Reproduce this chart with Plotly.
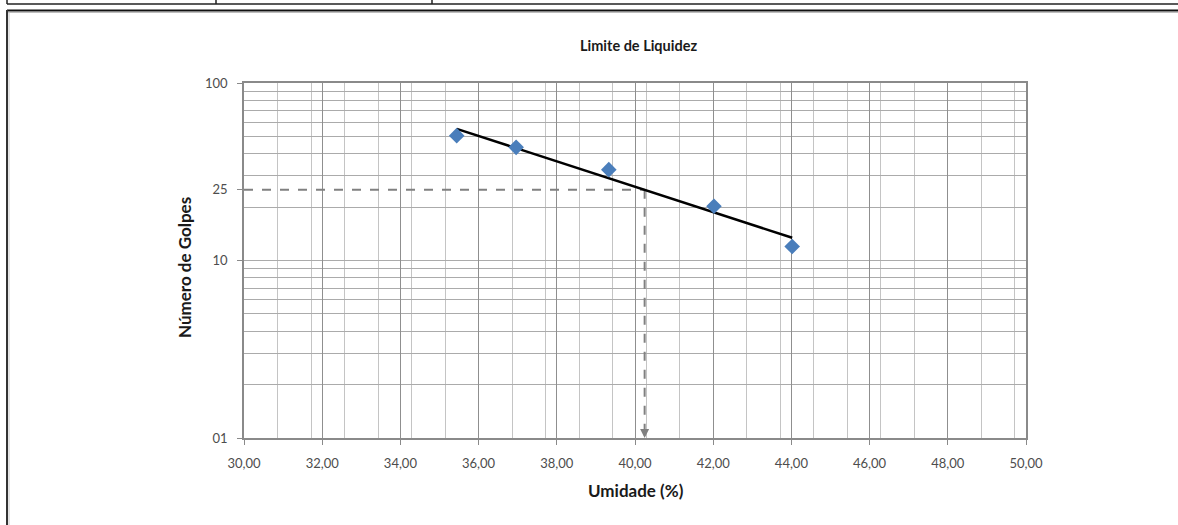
import numpy as np
import plotly.graph_objects as go

# Ensaio de limite de liquidez (Casagrande)
umidade = [35.44, 36.96, 39.33, 42.02, 44.02]      # teor de umidade (%)
golpes = [50.5, 43.4, 32.5, 20.2, 12.0]            # número de golpes

x_ticks = [30, 32, 34, 36, 38, 40, 42, 44, 46, 48, 50]
x_ticktext = ["30,00", "32,00", "34,00", "36,00", "38,00", "40,00",
              "42,00", "44,00", "46,00", "48,00", "50,00"]
y_ticks = [1, 10, 25, 100]
y_ticktext = ["01", "10", "25", "100"]
y_minor = [2, 3, 4, 5, 6, 7, 8, 9, 10, 20, 30, 40, 50, 60, 70, 80, 90]
golpes_ref = 25

# Reta de ajuste: log10(N) = a + b * w
b, a = np.polyfit(umidade, np.log10(golpes), 1)
w_fit = np.array([min(umidade), max(umidade)])
n_fit = 10 ** (a + b * w_fit)
LL = (np.log10(golpes_ref) - a) / b

W, H = 1178, 525
L, R, T, B = 244, 152, 83, 87
pw, ph = W - L - R, H - T - B


def px(xp):
    return (xp - L) / pw


def py(yp):
    return (H - B - yp) / ph


fig = go.Figure()

grey_dash = dict(color="#808080", width=2, dash="dash")
fig.add_trace(go.Scatter(x=[30, LL], y=[golpes_ref, golpes_ref], mode="lines",
                         line=grey_dash, hoverinfo="skip", showlegend=False))
fig.add_trace(go.Scatter(x=[LL, LL], y=[golpes_ref, 1], mode="lines",
                         line=grey_dash, hoverinfo="skip", showlegend=False))
fig.add_trace(go.Scatter(x=w_fit, y=n_fit, mode="lines",
                         line=dict(color="#000000", width=2.5), showlegend=False))
fig.add_trace(go.Scatter(x=umidade, y=golpes, mode="markers",
                         marker=dict(symbol="diamond", size=12, color="#4A7EBB",
                                     line=dict(width=0)),
                         showlegend=False))

axis_font = dict(family="Lato, 'Open Sans', sans-serif", size=13, color="#4d4d4d")

fig.update_xaxes(
    range=[30, 50], tickvals=x_ticks, ticktext=x_ticktext,
    showgrid=True, gridcolor="#8f8f8f", gridwidth=1,
    minor=dict(tick0=30, dtick=6 / 7, showgrid=True, gridcolor="#c4c4c4",
               gridwidth=1, ticks=""),
    showline=True, linecolor="#8a8a8a", linewidth=1.5, mirror=True,
    ticks="outside", ticklen=5, tickcolor="#8a8a8a",
    tickfont=axis_font, ticklabelstandoff=8, zeroline=False,
)
fig.update_yaxes(
    type="log", range=[0, 2], tickvals=y_ticks, ticktext=y_ticktext,
    showgrid=False,
    minor=dict(tickvals=y_minor, showgrid=True, gridcolor="#ababab",
               gridwidth=1, ticks=""),
    showline=True, linecolor="#8a8a8a", linewidth=1.5, mirror=True,
    ticks="outside", ticklen=5, tickcolor="#8a8a8a",
    tickfont=axis_font, ticklabelstandoff=7, zeroline=False,
)

title_font = dict(family="Lato, 'Open Sans', sans-serif", size=14.5, color="#1a1a1a")
common = dict(xref="paper", yref="paper", showarrow=False,
              xanchor="center", yanchor="middle")
fig.add_annotation(text="<b>Limite de Liquidez</b>", x=px(638), y=py(46),
                   font=title_font, **common)
fig.add_annotation(text="<b>Umidade (%)</b>", x=px(636), y=py(490),
                   font=dict(title_font, size=17), **common)
fig.add_annotation(text="<b>Número de Golpes</b>", x=px(184), y=py(268),
                   textangle=-90, font=dict(title_font, size=17), **common)

# Seta no fim da linha tracejada vertical
fig.add_annotation(x=LL, y=0, xref="x", yref="y", text="", showarrow=True,
                   ax=0, ay=-9, arrowhead=2, arrowsize=1, arrowwidth=1.8,
                   arrowcolor="#808080")

# Moldura da planilha
frame = [
    (7, 4, W, 4, "#222222", 1.5),
    (7, 0, 7, 4, "#222222", 1.5),
    (216, 0, 216, 4, "#222222", 1.5),
    (432, 0, 432, 4, "#222222", 1.5),
    (7, 10.5, W, 10.5, "#111111", 2),
    (7, 12.5, W, 12.5, "#bdbdbd", 1),
    (7, 10, 7, H, "#333333", 2),
    (9, 12, 9, H, "#c8c8c8", 1),
]
for x0, y0, x1, y1, c, w in frame:
    fig.add_shape(type="line", xref="paper", yref="paper",
                  x0=px(x0), y0=py(y0), x1=px(x1), y1=py(y1),
                  line=dict(color=c, width=w), layer="above")

fig.update_layout(
    width=W, height=H,
    margin=dict(l=L, r=R, t=T, b=B, autoexpand=False),
    paper_bgcolor="white", plot_bgcolor="white",
    font=dict(family="Lato, 'Open Sans', sans-serif"),
)

fig.write_html("out.html")
